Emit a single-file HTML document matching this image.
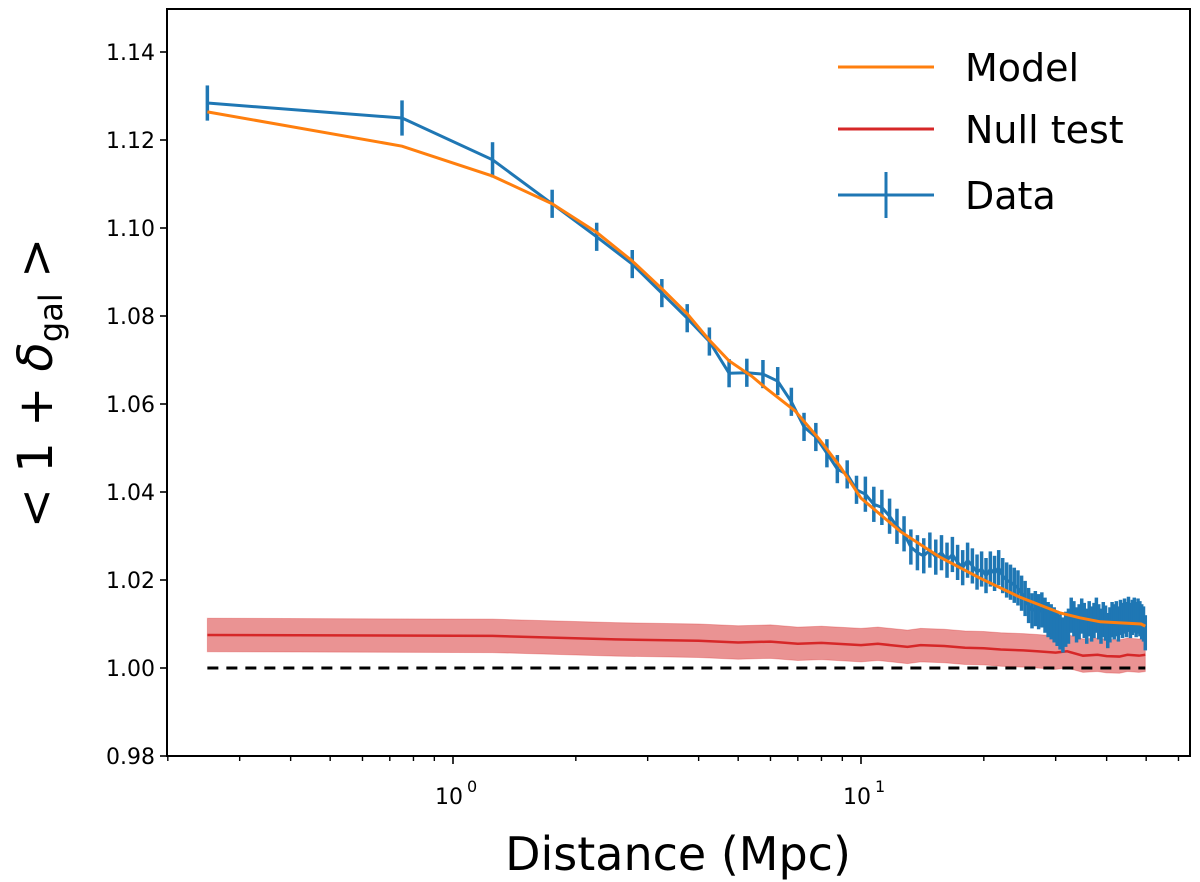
<!DOCTYPE html>
<html><head><meta charset="utf-8"><style>
html,body{margin:0;padding:0;background:#fff;}
svg{display:block;font-family:"DejaVu Sans","Liberation Sans",sans-serif;}
</style></head><body>
<svg id="chart" width="1200" height="882" viewBox="0 0 1200 882">
<g id="plot"></g>
</svg>
<script>
const distances = [];
for (let k = 0; k < 100; k++) distances.push(0.25 + 0.5 * k);
const dataValues = [1.1284,1.125,1.1155,1.1055,1.098,1.0918,1.0852,1.0795,1.0742,1.0670,
1.0671,1.0668,1.0652,1.0605,1.0548,1.0525,1.0488,1.0452,1.0440,1.0405,
1.0395,1.0372,1.0365,1.0345,1.0322,1.0305,1.0275,1.0262,1.0255,1.0268,
1.0252,1.0262,1.0245,1.0258,1.0240,1.0228,1.0245,1.0232,1.0218,1.0225,
1.0210,1.0225,1.0215,1.0228,1.0210,1.0200,1.0195,1.0188,1.0182,1.0170,
1.0158,1.0142,1.0130,1.0135,1.0128,1.0132,1.0120,1.0110,1.0105,1.0098,
1.0090,1.0082,1.0075,1.0088,1.0095,1.0120,1.0112,1.0098,1.0105,1.0118,
1.0108,1.0095,1.0112,1.0100,1.0108,1.0120,1.0105,1.0095,1.0110,1.0102,
1.0085,1.0098,1.0110,1.0105,1.0112,1.0100,1.0115,1.0108,1.0118,1.0110,
1.0122,1.0108,1.0115,1.0120,1.0110,1.0118,1.0112,1.0105,1.0100,1.0080];
const modelDist = [0.25,0.75,1.25,1.75,2.25,2.75,3.25,3.75,4.25,4.75,5.4,5.85,6.9,7.9,8.9,10,12.5,15.6,19.5,24.5,30.8,34.4,38.6,48.6,49.75];
const modelValues = [1.1264,1.1186,1.1118,1.1055,1.0990,1.0925,1.0862,1.0805,1.0745,1.0698,1.0663,1.0636,1.0584,1.0520,1.0457,1.0386,1.0310,1.0252,1.0205,1.0161,1.0125,1.0114,1.0105,1.0100,1.0095];
const nullDist = [0.25,1.25,2.5,4,5,6,7,8,10,11,13,14,16,18,20,22,25,27,30,32,35,38,40,43,45,48,49.75];
const nullValues = [1.0075,1.0073,1.0065,1.0062,1.0058,1.0060,1.0055,1.0057,1.0052,1.0055,1.0048,1.0052,1.0050,1.0046,1.0045,1.0042,1.0040,1.0038,1.0035,1.0038,1.0028,1.0030,1.0027,1.0026,1.0030,1.0028,1.0030];
const nullHalfWidth = 0.0038;
const yTicks = [0.98,1.00,1.02,1.04,1.06,1.08,1.10,1.12,1.14];
const yTickLabels = ["0.98","1.00","1.02","1.04","1.06","1.08","1.10","1.12","1.14"];
const xMajor = [1,10];
const xMajorExp = ["0","1"];
const xMinor = [0.2,0.3,0.4,0.5,0.6,0.7,0.8,0.9,2,3,4,5,6,7,8,9,20,30,40,50,60];

const L=167,R=1190,T=9,B=756;
function X(d){return 453 + 408*Math.log10(d);}
function Y(v){return 668 - 4400*(v-1);}
const NS="http://www.w3.org/2000/svg";
const plot=document.getElementById('plot');
function mk(tag,attrs,parent){const e=document.createElementNS(NS,tag);for(const k in attrs)e.setAttribute(k,attrs[k]);(parent||plot).appendChild(e);return e;}

let up=nullDist.map((d,i)=>X(d)+','+Y(nullValues[i]+nullHalfWidth));
let dn=nullDist.map((d,i)=>X(d)+','+Y(nullValues[i]-nullHalfWidth)).reverse();
const band=mk('polygon',{points:up.concat(dn).join(' '),fill:'#d62728','fill-opacity':0.5,stroke:'#d62728','stroke-opacity':0.3});


const nl=mk('polyline',{points:nullDist.map((d,i)=>X(d)+','+Y(nullValues[i])).join(' '),fill:'none',stroke:'#d62728','stroke-width':2.5});


const ref=mk('line',{x1:X(distances[0]),x2:X(distances[distances.length-1]),y1:Y(1),y2:Y(1),stroke:'#000','stroke-width':3,'stroke-dasharray':'11,8'});


const dl=mk('polyline',{points:distances.map((d,i)=>X(d)+','+Y(dataValues[i])).join(' '),fill:'none',stroke:'#1f77b4','stroke-width':3});


distances.forEach((d,i)=>{
  const e = i<=2?0.004:(i<20?0.0032:0.004);
  const eb=mk('line',{x1:X(d),x2:X(d),y1:Y(dataValues[i]-e),y2:Y(dataValues[i]+e),stroke:'#1f77b4','stroke-width':3.5});
  
  
});
const ml=mk('polyline',{points:modelDist.map((d,i)=>X(d)+','+Y(modelValues[i])).join(' '),fill:'none',stroke:'#ff7f0e','stroke-width':3});



const fr=mk('rect',{x:L,y:T,width:R-L,height:B-T,fill:'none',stroke:'#000','stroke-width':2});


yTicks.forEach((v,i)=>{
  mk('line',{x1:L-7,x2:L,y1:Y(v),y2:Y(v),stroke:'#000','stroke-width':1.6});
  const t=mk('text',{x:L-12,y:Y(v)+8,'text-anchor':'end','font-size':22,fill:'#000'});
  t.textContent=yTickLabels[i];
  
  
});
xMinor.forEach(d=>{mk('line',{x1:X(d),x2:X(d),y1:B,y2:B+5,stroke:'#000','stroke-width':1.4});});
xMajor.forEach((d,i)=>{
  mk('line',{x1:X(d),x2:X(d),y1:B,y2:B+8,stroke:'#000','stroke-width':1.6});
  const t=mk('text',{x:X(d)-4,y:B+48,'text-anchor':'middle','font-size':22,fill:'#000'});
  t.textContent='10';
  
  
  const s=mk('text',{x:X(d)+14,y:B+36,'font-size':16,fill:'#000'});
  s.textContent=xMajorExp[i];
  
  
});
</script>
<div style="position:absolute;left:0;top:0;width:1200px;height:882px;pointer-events:none">
<svg width="1200" height="882" style="font-family:'DejaVu Sans','Liberation Sans',sans-serif">
<text x="678" y="870" text-anchor="middle" font-size="46">Distance (Mpc)</text>
<text transform="translate(52,383) rotate(-90)" text-anchor="middle" font-size="48">&lt; 1 + <tspan font-style="italic">δ</tspan><tspan font-size="32" dy="10">gal</tspan><tspan dy="-10"> &gt;</tspan></text>
<g>
<line x1="838" x2="934" y1="67" y2="67" stroke="#ff7f0e" stroke-width="3"/>
<text x="965" y="81" font-size="38">Model</text>
<line x1="838" x2="934" y1="129" y2="129" stroke="#d62728" stroke-width="3"/>
<text x="965" y="143" font-size="38">Null test</text>
<line x1="838" x2="934" y1="195" y2="195" stroke="#1f77b4" stroke-width="3"/>
<line x1="886" x2="886" y1="172" y2="218" stroke="#1f77b4" stroke-width="3"/>
<text x="965" y="209" font-size="38">Data</text>
</g>
</svg></div>
</body></html>
